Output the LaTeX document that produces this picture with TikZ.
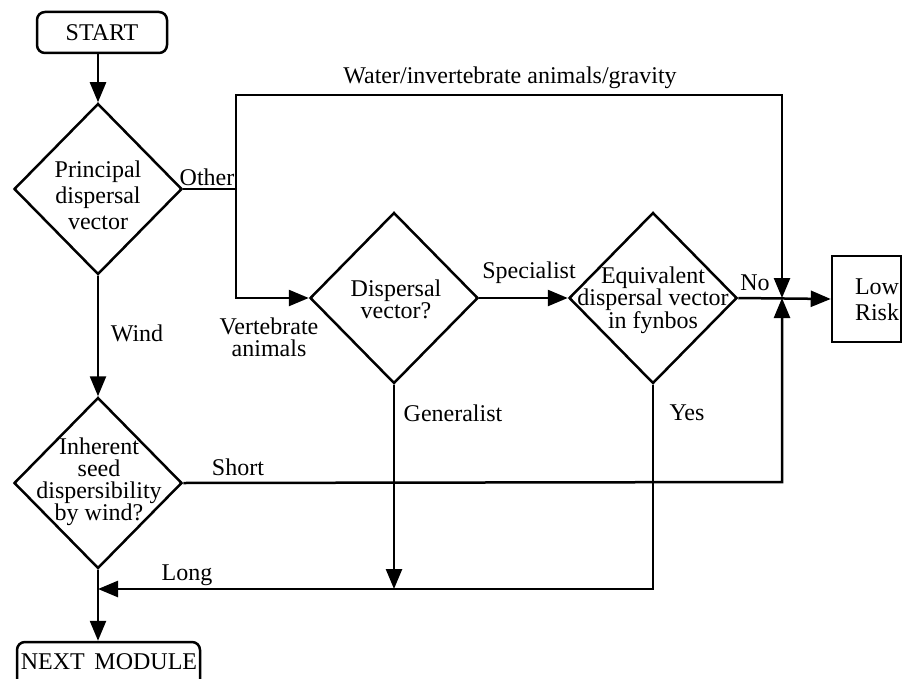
\documentclass[tikz,border=0pt]{standalone}
\usepackage{fontspec}
\setmainfont{Liberation Serif}
\usetikzlibrary{shapes.geometric,arrows.meta}
\begin{document}
\begin{tikzpicture}[x=1pt,y=-1pt,line width=2.5pt,
  txt/.style={font=\fontsize{24}{26}\selectfont,inner sep=0pt,align=center},
  tight/.style={font=\fontsize{24}{22}\selectfont,inner sep=0pt,align=center},
  decision/.style={diamond,draw,inner sep=0pt,minimum width=168pt,minimum height=171pt},
  terminal/.style={rectangle,draw,rounded corners=8pt,inner sep=0pt},
  outcome/.style={rectangle,draw,inner sep=0pt},
  flow/.style={-{Triangle[length=20pt,width=16pt]}}]
\useasboundingbox (0,0) rectangle (904,679);
\clip (0,0) rectangle (904,679);

% terminals
\node[terminal,minimum width=130pt,minimum height=41pt] (start) at (102,32.5) {};
\node[txt] (startt) at (102,33) {START};
\node[terminal,minimum width=183pt,minimum height=56pt] (next) at (108.5,670) {};
\node[txt] (nextt) at (109,662) {NEXT\hspace{0.4em}MODULE};

% decisions
\node[decision] (d1) at (98,189) {};
\node[txt] (d1t) at (98,195) {Principal\\dispersal\\vector};
\node[decision] (d2) at (394,298) {};
\node[tight] (d2t) at (396,299) {Dispersal\\vector?};
\node[decision] (d3) at (653,298) {};
\node[tight] (d3t) at (653,300) {Equivalent\\dispersal vector\\in fynbos};
\node[decision] (d4) at (98,483) {};
\node[tight] (d4t) at (99,482) {Inherent\\seed\\dispersibility\\by wind?};

% outcome
\node[outcome,minimum width=69pt,minimum height=86pt] (low) at (866.5,299) {};
\node[txt] (lowt) at (877,300) {Low\\Risk};

% junction points
\coordinate (jo) at (236,189);
\coordinate (jt1) at (236,95);
\coordinate (jt2) at (782,95);
\coordinate (jv) at (236,298);
\coordinate (jr) at (782,298);
\coordinate (js) at (782,482);
\coordinate (jg) at (394,589);
\coordinate (jy) at (653,589);
\coordinate (jl) at (98,589);

% connectors
\draw[flow] (start.south -| d1.north) -- (d1.north);
\draw (d1.east) -- (jo);
\draw[flow] (jo) -- (jt1) -- (jt2) -- (jr);
\draw[flow] (jo) -- (jv) -- (d2.west);
\draw[flow] (d2.east) -- (d3.west);
\draw[flow] (d3.east) -- (low.west);
\draw[flow] (d1.south) -- (d4.north);
\draw[flow] (d4.east) -- (js) -- (jr);
\draw[flow] (d2.south) -- (jg);
\draw[flow] (d3.south) -- (jy) -- (jl);
\draw[flow] (d4.south) -- (d4.south |- next.north);

% branch labels
\node[txt] (lother) at (207,177) {Other};
\node[txt] (lwater) at (510,78) {Water/invertebrate animals/gravity};
\node[tight] (lvert) at (269,337) {Vertebrate\\animals};
\node[txt] (lspec) at (529,273) {Specialist};
\node[txt] (lno) at (755,283) {No};
\node[txt] (lwind) at (137,333) {Wind};
\node[txt] (lgen) at (453,413) {Generalist};
\node[txt] (lyes) at (687,413) {Yes};
\node[txt] (lshort) at (238,467) {Short};
\node[txt] (llong) at (187,575) {Long};
\end{tikzpicture}
\end{document}
